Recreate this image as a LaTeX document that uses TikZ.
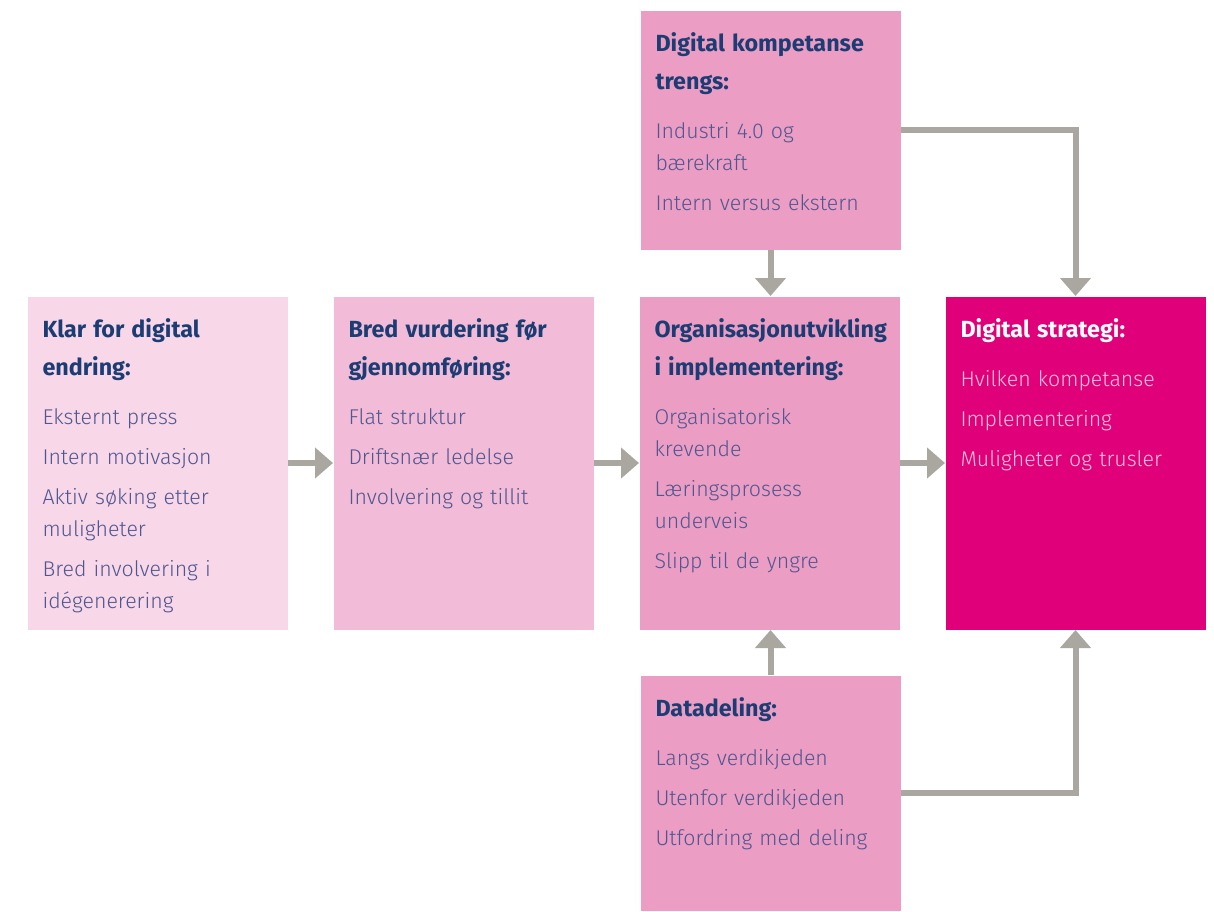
\documentclass[tikz,border=0pt]{standalone}
\usepackage{fontspec}
\setmainfont{Fira Sans}[UprightFont=* Light, BoldFont=* Bold]
\usetikzlibrary{arrows.meta,positioning}

\definecolor{pinklight}{RGB}{248,215,232}
\definecolor{pinkmid}{RGB}{242,187,215}
\definecolor{pinkdeep}{RGB}{236,157,196}
\definecolor{stratmagenta}{RGB}{224,0,122}
\definecolor{flowgray}{RGB}{169,167,159}
\definecolor{titleblue}{RGB}{27,61,116}
\definecolor{itemblue}{RGB}{79,87,144}
\definecolor{itempink}{RGB}{247,195,220}

\tikzset{every picture/.style={line width=0.75pt}}
\tikzset{
  panel/.style={anchor=north west, inner sep=0pt, minimum width=195pt},
  paneltext/.style={anchor=base west, inner sep=0pt, text width=190pt, align=left, font=\fontsize{16}{24}\selectfont},
  flow/.style={draw=flowgray, line width=4.5pt, -{Triangle[width=22.5pt,length=13.5pt]}},
}
\newcommand{\paneltitle}{\fontsize{17.5}{24}\selectfont\bfseries\color{titleblue}}
\newcommand{\panelitem}{\fontsize{16}{24}\selectfont\mdseries\color{itemblue}}

\begin{document}
\begin{tikzpicture}[x=0.75pt,y=0.75pt,yscale=-1,xscale=1]
	\useasboundingbox (0,0) rectangle (1214,911);
	
	%Shape: Rectangle [id:klar]
	\node [panel, fill=pinklight, minimum height=249.75pt] (klar) at (27,296) {};
	%Shape: Rectangle [id:bred]
	\node [panel, fill=pinkmid, minimum height=249.75pt] (bred) at (333,296) {};
	%Shape: Rectangle [id:org]
	\node [panel, fill=pinkdeep, minimum height=249.75pt] (org) at (639,296) {};
	%Shape: Rectangle [id:strat]
	\node [panel, fill=stratmagenta, minimum height=249.75pt] (strat) at (945,296) {};
	%Shape: Rectangle [id:komp]
	\node [panel, fill=pinkdeep, minimum height=179.25pt] (komp) at (640,10) {};
	%Shape: Rectangle [id:data]
	\node [panel, fill=pinkdeep, minimum height=176.25pt] (data) at (640,675) {};
	
	%Straight Lines [id:klar-bred]
	\draw [flow] (klar) -- (bred);
	%Straight Lines [id:bred-org]
	\draw [flow] (bred) -- (org);
	%Straight Lines [id:org-strat]
	\draw [flow] (org) -- (strat);
	%Straight Lines [id:komp-org]
	\draw [flow] (komp.south) -- (komp.south |- org.north);
	%Straight Lines [id:komp-strat]
	\draw [flow] (komp.east) -| (strat.north);
	%Straight Lines [id:data-org]
	\draw [flow] (data.north) -- (data.north |- org.south);
	%Straight Lines [id:data-strat]
	\draw [flow] (data.east) -| (strat.south);
	
	% Text Node
	\node [paneltext] (klar-text) at ([xshift=11.25pt,yshift=30.75pt]klar.north west) {\paneltitle Klar for digital\\[4.5pt]endring:\\[13pt]\panelitem Eksternt press\\[6pt]Intern motivasjon\\[6pt]Aktiv søking etter\\muligheter\\[6pt]Bred involvering i\\idégenerering};
	% Text Node
	\node [paneltext] (bred-text) at ([xshift=11.25pt,yshift=30.75pt]bred.north west) {\paneltitle Bred vurdering før\\[4.5pt]gjennomføring:\\[13pt]\panelitem Flat struktur\\[6pt]Driftsnær ledelse\\[6pt]Involvering og tillit};
	% Text Node
	\node [paneltext] (org-text) at ([xshift=11.25pt,yshift=30.75pt]org.north west) {\paneltitle Organisasjonutvikling\\[4.5pt]i implementering:\\[13pt]\panelitem Organisatorisk\\krevende\\[6pt]Læringsprosess\\underveis\\[6pt]Slipp til de yngre};
	% Text Node
	\node [paneltext] (strat-text) at ([xshift=11.25pt,yshift=30.75pt]strat.north west) {\fontsize{17.5}{24}\selectfont\bfseries\color{white}Digital strategi:\\[13pt]\fontsize{16}{24}\selectfont\mdseries\color{itempink}Hvilken kompetanse\\[6pt]Implementering\\[6pt]Muligheter og trusler};
	% Text Node
	\node [paneltext] (komp-text) at ([xshift=11.25pt,yshift=30.75pt]komp.north west) {\paneltitle Digital kompetanse\\[4.5pt]trengs:\\[13pt]\panelitem Industri 4.0 og\\bærekraft\\[6pt]Intern versus ekstern};
	% Text Node
	\node [paneltext] (data-text) at ([xshift=11.25pt,yshift=30.75pt]data.north west) {\paneltitle Datadeling:\\[13pt]\panelitem Langs verdikjeden\\[6pt]Utenfor verdikjeden\\[6pt]Utfordring med deling};
	
\end{tikzpicture}
\end{document}
